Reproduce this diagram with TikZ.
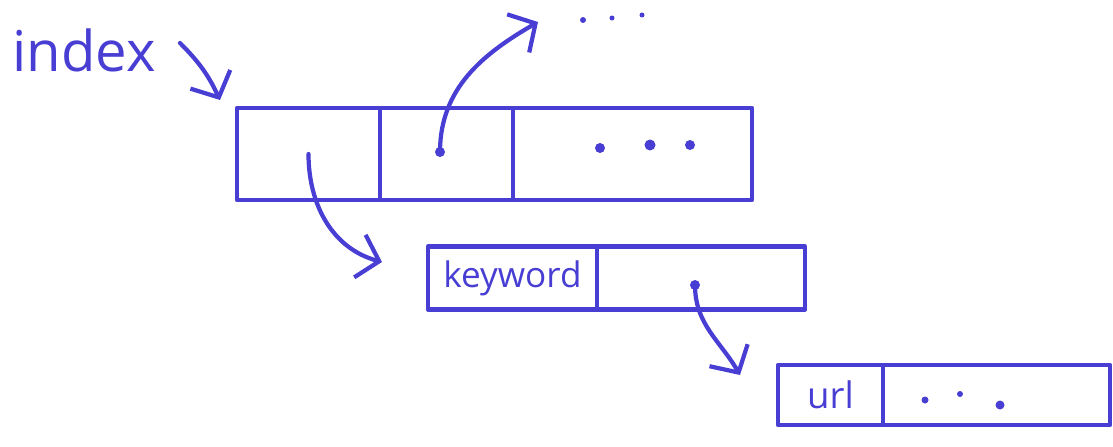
\documentclass[tikz,border=0pt]{standalone}
\usepackage{fontspec}
\setmainfont{Open Sans}
\usepackage{xcolor}
\usepackage{tikz}
\usetikzlibrary{arrows.meta, positioning}

\definecolor{inkblue}{RGB}{72,62,212}

\begin{document}
\begin{tikzpicture}[
    x=0.025cm, y=0.025cm,
    ink/.style={draw=inkblue, line width=3pt, line cap=round, line join=round},
    cell/.style={ink, rectangle, inner sep=0pt, text=inkblue},
    ptr/.style={ink, -{Straight Barb[length=0.5cm, width=1.1cm]}},
    label_text/.style={text=inkblue, inner sep=0pt}
]
\useasboundingbox (0,0) rectangle (1113,-447);

% index array
\node (idx) [label_text, font=\fontsize{40}{42}\selectfont] at (84,-50) {index};
\node (slot1) [cell, minimum width=3.575cm, minimum height=2.3cm] at (308.5,-154) {};
\node (slot2) [cell, right=-3pt of slot1, minimum width=3.325cm, minimum height=2.3cm] {};
\node (slotrest) [cell, right=-3pt of slot2, minimum width=5.975cm, minimum height=2.3cm] {};

% keyword entry
\node (kw) [cell, minimum width=4.225cm, minimum height=1.575cm, font=\fontsize{25}{27}\selectfont] at (512.5,-278) {keyword};
\node (kwptr) [cell, right=-3pt of kw, minimum width=5.2cm, minimum height=1.575cm] {};

% url entry
\node (url) [cell, minimum width=2.625cm, minimum height=1.5cm, font=\fontsize{26}{28}\selectfont] at (830.5,-395) {url};
\node (urlrest) [cell, right=-3pt of url, minimum width=5.675cm, minimum height=1.5cm] {};

\coordinate (itip) at (220,-100);
\coordinate (p1) at (382,-262);
\coordinate (p2) at (538,-22);
\coordinate (p3) at (740,-375);

% dots
\foreach \px/\py/\r in {600/-148/5, 650/-145/5.5, 690/-145/5, 925/-400/3.5, 960/-394/3, 1000/-405/4.5, 583/-20/3, 612/-18/2.5, 642/-15/2.5}
  \fill[inkblue] (\px,\py) circle (\r);
\fill[inkblue] (440,-152) circle (5);
\fill[inkblue] (695,-285) circle (5);

% pointers
\draw [ptr] (180,-43) to[bend left=10] (itip);
\draw [ptr] (slot1.center) to[out=-90, in=165] (p1);
\draw [ptr] (440,-152) to[out=90, in=210] (p2);
\draw [ptr] (695,-285) to[out=-90, in=120] (p3);
\end{tikzpicture}
\end{document}
